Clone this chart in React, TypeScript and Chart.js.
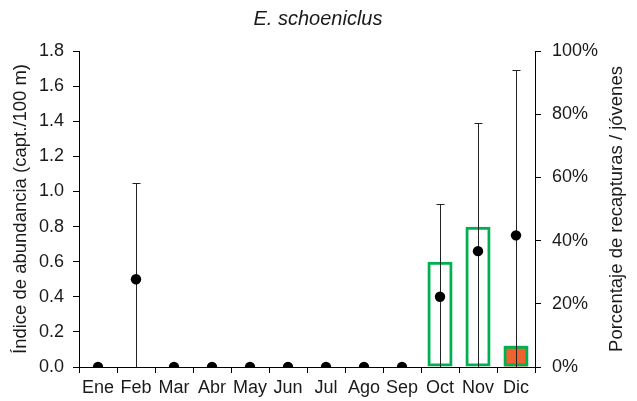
import React, { useEffect, useRef } from "react";
import { Chart, registerables } from "chart.js";

Chart.register(...registerables);

const months = ["Ene", "Feb", "Mar", "Abr", "May", "Jun", "Jul", "Ago", "Sep", "Oct", "Nov", "Dic"];
const abundance = [0, 0.5, 0, 0, 0, 0, 0, 0, 0, 0.4, 0.66, 0.75];
const abundanceError = [0, 0.55, 0, 0, 0, 0, 0, 0, 0, 0.53, 0.73, 0.94];
const recapturePct = [null, null, null, null, null, null, null, null, null, 33.3, 44.4, 6.7];
const juvenilePct = [null, null, null, null, null, null, null, null, null, null, null, 6.7];
const leftTicks = [0, 0.2, 0.4, 0.6, 0.8, 1.0, 1.2, 1.4, 1.6, 1.8];
const rightTicks = [0, 20, 40, 60, 80, 100];

const FONT = "'Liberation Sans', Arial, sans-serif";
const TEXT = "#1a1a1a";
const LINE = "#000000";

const overlayPlugin = {
  id: "overlay",
  beforeDatasetDraw(chart: any, args: any) {
    if (args.index !== 2) return;
    const ctx = chart.ctx;
    const x = chart.scales.x;
    const y = chart.scales.y;
    ctx.save();
    ctx.strokeStyle = "#222";
    ctx.lineWidth = 1;
    abundance.forEach((v, i) => {
      const e = abundanceError[i];
      if (!e) return;
      const cx = Math.round(x.getPixelForValue(i)) + 0.5;
      const lo = y.getPixelForValue(Math.max(0, v - e));
      const hi = Math.round(y.getPixelForValue(v + e)) + 0.5;
      ctx.beginPath();
      ctx.moveTo(cx, lo);
      ctx.lineTo(cx, hi);
      ctx.moveTo(cx - 4, hi);
      ctx.lineTo(cx + 4, hi);
      ctx.stroke();
    });
    ctx.restore();
  },
  afterDraw(chart: any) {
    const ctx = chart.ctx;
    const area = chart.chartArea;
    ctx.save();
    ctx.fillStyle = TEXT;
    ctx.textAlign = "center";
    ctx.textBaseline = "middle";
    ctx.font = `italic 20px ${FONT}`;
    ctx.fillText("E. schoeniclus", 318, 19);
    ctx.font = `18.5px ${FONT}`;
    ctx.translate(617, (area.top + area.bottom) / 2);
    ctx.rotate(-Math.PI / 2);
    ctx.fillText("Porcentaje de recapturas / jóvenes", 0, 0);
    ctx.restore();
  },
};

export default function App() {
  const ref = useRef<HTMLCanvasElement>(null);
  useEffect(() => {
    document.body.style.margin = "0";
    const canvas = ref.current!;
    const chart = new Chart(canvas, {
      type: "bar",
      data: {
        labels: months,
        datasets: [
          {
            type: "bar",
            data: juvenilePct as any,
            yAxisID: "y1",
            backgroundColor: "#F0622D",
            borderWidth: 0,
            grouped: false,
            barPercentage: 0.6,
            categoryPercentage: 1,
            order: 3,
          },
          {
            type: "bar",
            data: recapturePct as any,
            yAxisID: "y1",
            backgroundColor: "rgba(0,0,0,0)",
            borderColor: "#00B050",
            borderWidth: 3,
            borderSkipped: false,
            grouped: false,
            barPercentage: 0.66,
            categoryPercentage: 1,
            order: 2,
          },
          {
            type: "line",
            data: abundance,
            yAxisID: "y",
            showLine: false,
            pointRadius: 5.2,
            pointBackgroundColor: "#000",
            pointBorderColor: "#000",
            pointBorderWidth: 0,
            order: 1,
          },
        ],
      },
      options: {
        responsive: false,
        animation: false,
        events: [],
        layout: { padding: { top: 51, left: 0, right: 0, bottom: 0 } },
        plugins: {
          legend: { display: false },
          title: { display: false },
          tooltip: { enabled: false },
        },
        scales: {
          x: {
            offset: true,
            grid: {
              offset: true,
              drawOnChartArea: false,
              drawTicks: true,
              tickLength: 6,
              color: LINE,
            },
            border: { color: LINE, width: 1 },
            ticks: {
              color: TEXT,
              font: { family: FONT, size: 18 },
              padding: 4,
              maxRotation: 0,
              autoSkip: false,
            },
            afterFit(s: any) {
              s.height = 34;
            },
          },
          y: {
            position: "left",
            min: 0,
            max: 1.8,
            afterBuildTicks(s: any) {
              s.ticks = leftTicks.map((v) => ({ value: v }));
            },
            grid: { drawOnChartArea: false, tickLength: 6, color: LINE },
            border: { color: LINE, width: 1 },
            ticks: {
              color: TEXT,
              font: { family: FONT, size: 18 },
              padding: 9,
              callback: (v: any) => Number(v).toFixed(1),
            },
            title: {
              display: true,
              text: "Índice de abundancia (capt./100 m)",
              color: TEXT,
              font: { family: FONT, size: 18.5 },
              padding: { top: 10, bottom: 4 },
            },
            afterFit(s: any) {
              s.width = 79;
            },
          },
          y1: {
            position: "right",
            min: 0,
            max: 100,
            afterBuildTicks(s: any) {
              s.ticks = rightTicks.map((v) => ({ value: v }));
            },
            grid: { drawOnChartArea: false, tickLength: 6, color: LINE },
            border: { color: LINE, width: 1 },
            ticks: {
              color: TEXT,
              font: { family: FONT, size: 18 },
              padding: 11,
              callback: (v: any) => `${v}%`,
            },
            afterFit(s: any) {
              s.width = 102;
            },
          },
        },
      },
      plugins: [overlayPlugin],
    });
    return () => chart.destroy();
  }, []);
  return <canvas ref={ref} width={637} height={401} style={{ display: "block" }} />;
}
